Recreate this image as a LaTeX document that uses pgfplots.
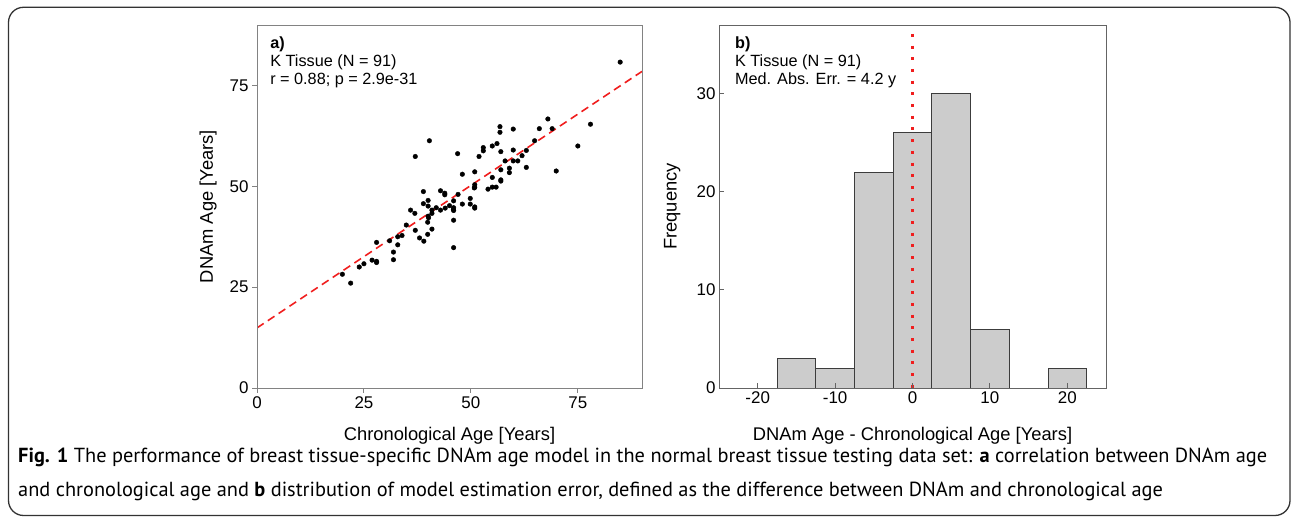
\documentclass[border=0pt]{standalone}
\usepackage{fontspec}
\setmainfont{Liberation Sans}
\newfontfamily\capfont{PT Sans}
\usepackage{graphicx}
\usepackage{pgfplots}
\usepackage{pgfplotstable}
\pgfplotsset{compat=1.18}

\definecolor{lred}{RGB}{240,30,30}
\definecolor{frameA}{RGB}{130,130,130}
\definecolor{frameB}{RGB}{100,100,100}
\definecolor{barfill}{RGB}{204,204,204}
\definecolor{baredge}{RGB}{60,60,60}

\pgfplotstableread{
x y
19.96 28.2
21.9 26.0
23.9 30.0
25.0 30.8
26.9 31.7
27.95 31.4
27.95 31.1
27.95 36.1
31.0 36.5
31.9 33.7
31.9 31.8
32.9 35.5
32.9 37.5
33.9 37.8
34.9 40.4
37.0 39.1
38.0 37.2
39.0 36.4
39.9 41.1
39.9 38.1
40.9 39.4
35.9 44.1
36.9 43.3
38.9 48.7
38.9 45.7
40.0 46.5
40.0 45.1
40.0 42.6
40.9 44.1
40.9 43.3
41.9 44.7
42.9 48.9
42.9 44.1
43.9 48.3
43.9 47.9
44.0 44.6
45.0 45.2
45.96 46.4
45.96 44.7
45.96 44.0
45.96 41.6
45.96 34.8
47.0 48.0
48.0 53.0
48.0 45.6
49.85 47.0
49.85 45.6
50.9 53.6
50.9 50.4
50.9 49.8
50.9 44.6
40.3 61.3
37.0 57.4
46.9 58.1
51.9 57.4
52.9 59.6
52.9 58.8
54.0 49.3
55.0 60.0
55.0 52.2
55.0 49.8
56.1 60.6
55.9 49.8
56.8 64.8
56.8 63.4
57.0 58.6
57.0 54.1
57.0 51.6
58.0 56.3
59.0 54.5
59.0 53.4
59.9 64.2
59.9 56.3
60.96 56.3
61.96 57.6
62.96 58.9
62.96 54.7
64.9 61.3
66.0 64.3
68.0 66.7
69.0 64.3
69.95 53.8
75.0 60.0
77.96 65.4
84.9 80.8
59.9 59.0
50.9 44.9
57.0 51.3
45.9 44.3
40.1 42.2
50.8 49.6
}\scatterdata

\pgfplotsset{
  common/.style={
    scale only axis,
    axis on top,
    tick pos=left,
    major tick length=5bp,
    /pgf/number format/assume math mode=true,
    ticklabel style={font=\fontsize{17}{20}\selectfont},
    every axis x label/.style={at={(axis description cs:0.5,-0.132)},anchor=center,font=\fontsize{18.4}{22}\selectfont},
  },
}

\newsavebox\capA
\newsavebox\capB

\begin{document}
\sbox\capA{\capfont\fontsize{19}{22}\selectfont\textbf{Fig. 1} The performance of breast tissue-specific DNAm age model in the normal breast tissue testing data set: \textbf{a} correlation between DNAm age}%
\sbox\capB{\capfont\fontsize{19}{22}\selectfont and chronological age and \textbf{b} distribution of model estimation error, defined as the difference between DNAm and chronological age}%
\pgfmathsetmacro\capscale{1253.7/\the\wd\capA}%
\begin{tikzpicture}[x=1bp,y=1bp]
\useasboundingbox (0,0) rectangle (1292,517);
\draw[line width=1.3bp, black!80, rounded corners=15bp] (8.5,1.5) rectangle (1290,509.7);

% Panel a
\begin{axis}[common,
  at={(257bp,129bp)}, anchor=south west,
  width=385bp, height=363bp,
  xmin=0, xmax=90, ymin=0, ymax=90,
  xtick={0,25,50,75}, ytick={0,25,50,75},
  tick align=outside,
  axis line style={frameA, line width=0.9bp},
  tick style={frameA, line width=0.9bp},
  every axis y label/.style={at={(axis description cs:-0.127,0.5)},rotate=90,anchor=center,font=\fontsize{18.4}{22}\selectfont},
  xlabel={Chronological Age [Years]},
  ylabel={DNAm Age [Years]},
]
\addplot[lred, line width=1.6bp, dash pattern=on 8bp off 5bp] coordinates {(0,14.9) (90,78.5)};
\addplot[only marks, mark=*, mark size=2.3bp, black] table {\scatterdata};
\node[anchor=base west, inner sep=0, font=\bfseries\fontsize{16.3}{18}\selectfont] at (axis description cs:0.034,0.935) {a)};
\node[anchor=base west, inner sep=0, font=\fontsize{16.3}{18}\selectfont] at (axis description cs:0.034,0.885) {K Tissue (N = 91)};
\node[anchor=base west, inner sep=0, font=\fontsize{16.3}{18}\selectfont] at (axis description cs:0.034,0.835) {r = 0.88; p = 2.9e-31};
\end{axis}

% Panel b
\begin{axis}[common,
  at={(719bp,129bp)}, anchor=south west,
  width=387bp, height=363bp,
  xmin=-25, xmax=25, ymin=0, ymax=37,
  xtick={-20,-10,0,10,20}, xticklabels={-20,-10,0,10,20},
  ytick={0,10,20,30},
  tick align=inside,
  axis line style={frameB, line width=0.9bp},
  tick style={frameB, line width=0.9bp},
  every axis y label/.style={at={(axis description cs:-0.121,0.5)},rotate=90,anchor=center,font=\fontsize{18.4}{22}\selectfont},
  xlabel={DNAm Age - Chronological Age [Years]},
  ylabel={Frequency},
]
\addplot[ybar interval, fill=barfill, draw=baredge, line width=0.9bp] coordinates {(-17.5,3) (-12.5,2) (-7.5,22) (-2.5,26) (2.5,30) (7.5,6) (12.5,6)};
\addplot[ybar interval, fill=barfill, draw=baredge, line width=0.9bp] coordinates {(17.5,2) (22.5,2)};
\addplot[lred, line width=3bp, dash pattern=on 3bp off 8.7bp] coordinates {(0,36.1) (0,0)};
\node[anchor=base west, inner sep=0, font=\bfseries\fontsize{16.3}{18}\selectfont] at (axis description cs:0.041,0.935) {b)};
\node[anchor=base west, inner sep=0, font=\fontsize{16.3}{18}\selectfont] at (axis description cs:0.041,0.885) {K Tissue (N = 91)};
\node[anchor=base west, inner sep=0, font=\fontsize{16.3}{18}\selectfont] at (axis description cs:0.041,0.835) {Med. Abs. Err. = 4.2 y};
\end{axis}

% Caption
\node[anchor=base west, inner sep=0] at (18,54) {\scalebox{\capscale}{\usebox\capA}};
\node[anchor=base west, inner sep=0] at (18,20) {\scalebox{\capscale}{\usebox\capB}};
\end{tikzpicture}
\end{document}
